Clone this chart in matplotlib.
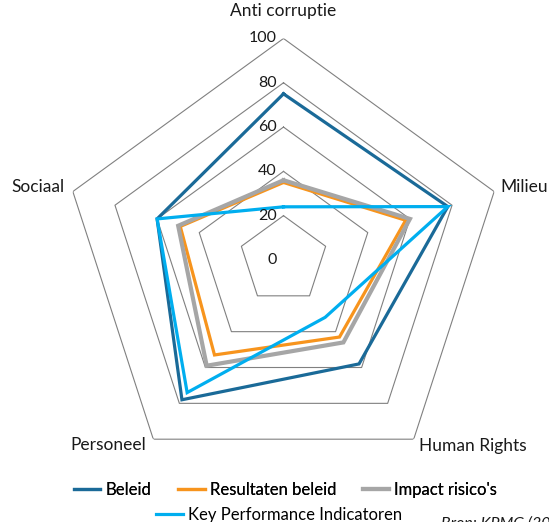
import numpy as np
import matplotlib.pyplot as plt

plt.rcParams['font.family'] = ['Lato', 'DejaVu Sans']

# data
categorieen = ["Anti corruptie", "Milieu", "Human Rights", "Personeel", "Sociaal"]
beleid = [75, 78, 58, 78, 60]
resultaten_beleid = [35, 58, 43, 53, 49]
impact_risicos = [36, 60, 46, 59, 50]
kpi = [24, 78, 32, 74, 60]
schaal = [0, 20, 40, 60, 80, 100]

reeksen = [
    ("Beleid", beleid, "#1a6a98", 2.3),
    ("Resultaten beleid", resultaten_beleid, "#f7941d", 2.3),
    ("Impact risico's", impact_risicos, "#a6a6a6", 3.0),
    ("Key Performance Indicatoren", kpi, "#00aeef", 2.3),
]

n = len(categorieen)
hoeken = np.linspace(0, 2 * np.pi, n, endpoint=False)
hoeken_dicht = np.append(hoeken, hoeken[0])

fig = plt.figure(figsize=(5.49, 5.22), dpi=100)
ax = fig.add_axes([0.1129, 0.0776, 0.807, 0.8487], projection='polar')
ax.set_theta_offset(np.pi / 2)
ax.set_theta_direction(-1)
ax.set_ylim(0, 100)
ax.grid(False)
ax.set_xticks([])
ax.set_yticks([])
ax.spines['polar'].set_visible(False)
ax.patch.set_alpha(0)

# polygon grid
for r in schaal[1:]:
    ax.plot(hoeken_dicht, [r] * (n + 1), color="#808080", lw=0.8, zorder=1)

lijnen = []
for naam, waarden, kleur, lw in reeksen:
    w = np.append(waarden, waarden[0])
    l, = ax.plot(hoeken_dicht, w, color=kleur, lw=lw, label=naam, zorder=3,
                 solid_joinstyle='miter')
    lijnen.append(l)

# schaal labels
for r in schaal:
    ax.annotate(str(r), xy=(0, r), xytext=(-7, 0), textcoords='offset pixels',
                ha='right', va='center', fontsize=11.5, color="#1a1a1a")

# categorie labels
plaatsing = [
    ((0, 19), 'center', 'bottom'),
    ((6, 5), 'left', 'center'),
    ((5, -7), 'left', 'center'),
    ((-7, -6), 'right', 'center'),
    ((-8, 5), 'right', 'center'),
]
for hoek, naam, (off, ha, va) in zip(hoeken, categorieen, plaatsing):
    ax.annotate(naam, xy=(hoek, 100), xytext=off, textcoords='offset pixels',
                ha=ha, va=va, fontsize=12.5, color="#1a1a1a")

leg1 = fig.legend(handles=lijnen[:3], loc='center', bbox_to_anchor=(0.52, 0.0613),
                  ncol=3, frameon=False, fontsize=12, handlelength=1.6,
                  handletextpad=0.3, columnspacing=1.6, borderpad=0)
fig.add_artist(leg1)
fig.legend(handles=lijnen[3:], loc='center', bbox_to_anchor=(0.508, 0.0134),
           frameon=False, fontsize=12, handlelength=1.6, handletextpad=0.3,
           borderpad=0)

# bronvermelding, valt in het origineel deels buiten beeld
fig.text(0.803, 0.0105, "Bron: KPMG (2014)", fontsize=11.5, style='italic',
         color="#1a1a1a", ha='left', va='top')

fig.savefig("out.png", dpi=100)
